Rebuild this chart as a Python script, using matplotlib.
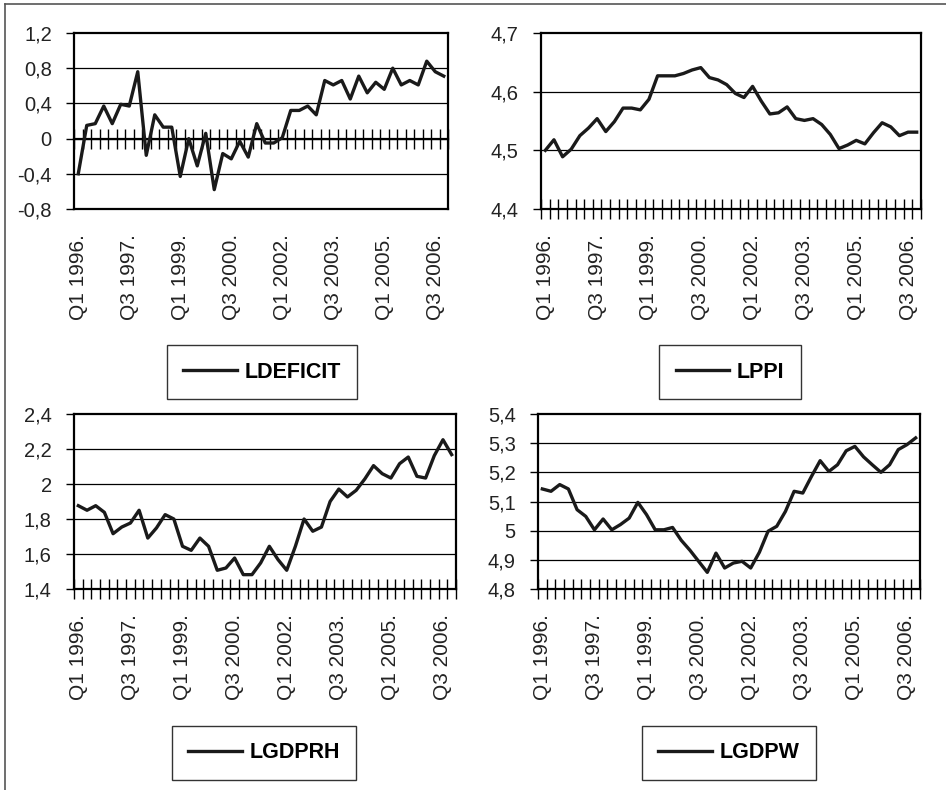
import numpy as np
import matplotlib
matplotlib.use("Agg")
import matplotlib.pyplot as plt
from matplotlib.lines import Line2D

plt.rcParams["font.family"] = ["Liberation Sans", "DejaVu Sans"]

# --- Data (quarterly, Q1 1996 .. Q4 2006) ---
quarters = [f"Q{q} {y}." for y in range(1996, 2007) for q in (1, 2, 3, 4)]

ldeficit = [-0.40, 0.15, 0.17, 0.37, 0.17, 0.39, 0.37, 0.76, -0.19, 0.27, 0.13,
            0.13, -0.43, 0.00, -0.31, 0.06, -0.58, -0.17, -0.23, -0.03, -0.21,
            0.17, -0.05, -0.05, 0.01, 0.32, 0.32, 0.37, 0.27, 0.66, 0.61, 0.66,
            0.45, 0.71, 0.52, 0.64, 0.56, 0.80, 0.61, 0.66, 0.61, 0.88, 0.76, 0.71]

lppi = [4.500, 4.518, 4.489, 4.502, 4.525, 4.538, 4.554, 4.532, 4.549, 4.572, 4.572,
        4.569, 4.587, 4.627, 4.627, 4.627, 4.631, 4.637, 4.641, 4.624, 4.620,
        4.612, 4.597, 4.590, 4.609, 4.584, 4.562, 4.564, 4.574, 4.554, 4.551,
        4.554, 4.544, 4.527, 4.503, 4.509, 4.517, 4.511, 4.530, 4.547, 4.540,
        4.525, 4.531, 4.531]

lgdprh = [1.876, 1.850, 1.876, 1.838, 1.716, 1.754, 1.777, 1.850, 1.691, 1.749,
          1.825, 1.800, 1.644, 1.621, 1.691, 1.644, 1.507, 1.520, 1.577, 1.482,
          1.482, 1.549, 1.644, 1.568, 1.507, 1.644, 1.800, 1.730, 1.754, 1.900,
          1.971, 1.926, 1.964, 2.029, 2.105, 2.059, 2.034, 2.116, 2.154, 2.044,
          2.034, 2.162, 2.253, 2.168]

lgdpw = [5.143, 5.135, 5.158, 5.143, 5.072, 5.049, 5.003, 5.040, 5.003, 5.021,
         5.043, 5.097, 5.055, 5.003, 5.003, 5.011, 4.967, 4.933, 4.895, 4.857,
         4.923, 4.872, 4.889, 4.895, 4.872, 4.926, 4.998, 5.015, 5.066, 5.135,
         5.129, 5.186, 5.240, 5.203, 5.226, 5.274, 5.289, 5.253, 5.226, 5.200,
         5.226, 5.278, 5.295, 5.318]

W, H = 946, 790
fig = plt.figure(figsize=(W / 100, H / 100), dpi=100)

# outer frame (top and left edges)
fig.add_artist(Line2D([5 / W, 1], [1 - 4 / H, 1 - 4 / H], color="#555555", lw=1.2))
fig.add_artist(Line2D([5 / W, 5 / W], [0, 1 - 4 / H], color="#555555", lw=1.2))

xi = np.arange(len(quarters))
label_idx = list(range(0, len(quarters), 6))


def panel(rect, values, name, yticks, ylabels, leg_center, cross_zero=False):
    l, t, r, b = rect
    ax = fig.add_axes([l / W, 1 - b / H, (r - l) / W, (b - t) / H])
    ax.plot(xi, values, color="#1a1a1a", lw=2.4, label=name, zorder=3)
    ax.set_xlim(-0.5, len(quarters) - 0.5)
    ax.set_ylim(yticks[0], yticks[-1])
    ax.set_yticks(yticks)
    ax.set_yticklabels(ylabels)
    ax.tick_params(axis="y", direction="out", length=6, width=1,
                   labelsize=14.5, pad=10, labelcolor="#222222")
    for y in yticks[1:-1]:
        ax.axhline(y, color="black", lw=0.9, zorder=1)
    for s in ax.spines.values():
        s.set_linewidth(1.6)
        s.set_color("black")

    # tick marks between categories
    ax.set_xticks(np.arange(len(quarters) + 1) - 0.5, minor=True)
    ax.tick_params(axis="x", which="minor", direction="inout", length=15, width=1)

    if cross_zero:
        ax.spines["bottom"].set_position(("data", 0))
        ax.set_xticks([])
        sec = ax.secondary_xaxis(0.0)
        lab_ax = sec
    else:
        lab_ax = ax
    lab_ax.set_xticks(label_idx)
    lab_ax.set_xticklabels([quarters[i] for i in label_idx], rotation=90)
    lab_ax.tick_params(axis="x", which="major", length=0, labelsize=15,
                       pad=18, labelcolor="#222222")
    if cross_zero:
        sec.spines["bottom"].set_linewidth(1.6)
        sec.tick_params(axis="x", which="minor", length=0)

    cx, cy = leg_center
    leg = ax.legend(loc="center", bbox_to_anchor=(cx / W, 1 - cy / H),
                    bbox_transform=fig.transFigure, frameon=True, fancybox=False,
                    handlelength=2.5, handletextpad=0.35, borderpad=0.75,
                    prop={"weight": "bold", "size": 15.5})
    leg.get_frame().set_edgecolor("black")
    leg.get_frame().set_linewidth(1.0)
    return ax


panel((74, 33, 448, 209), ldeficit, "LDEFICIT",
      [-0.8, -0.4, 0, 0.4, 0.8, 1.2], ["-0,8", "-0,4", "0", "0,4", "0,8", "1,2"],
      (262, 372), cross_zero=True)
panel((541, 33, 921, 209), lppi, "LPPI",
      [4.4, 4.5, 4.6, 4.7], ["4,4", "4,5", "4,6", "4,7"], (730, 372))
panel((74, 414, 456, 589), lgdprh, "LGDPRH",
      [1.4, 1.6, 1.8, 2.0, 2.2, 2.4], ["1,4", "1,6", "1,8", "2", "2,2", "2,4"],
      (264, 753))
panel((538, 414, 920, 589), lgdpw, "LGDPW",
      [4.8, 4.9, 5.0, 5.1, 5.2, 5.3, 5.4],
      ["4,8", "4,9", "5", "5,1", "5,2", "5,3", "5,4"], (729, 753))

fig.savefig("out.png", dpi=100)
